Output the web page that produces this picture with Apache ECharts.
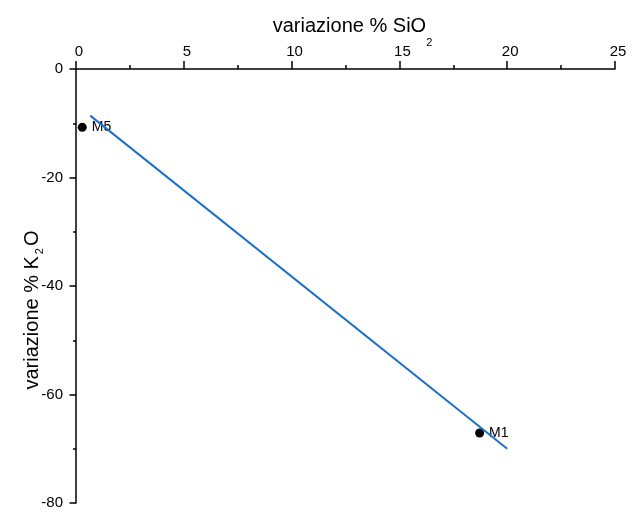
<!DOCTYPE html>
<html>
<head>
<meta charset="utf-8">
<script src="https://cdn.jsdelivr.net/npm/echarts@6/dist/echarts.min.js"></script>
<style>
  html, body { margin: 0; padding: 0; background: #fff; }
  #chart { width: 637px; height: 513px; }
</style>
</head>
<body>
<div id="chart"></div>
<script>
// Samples: SiO2 change vs K2O change (%)
const sampleNames = ['M5', 'M1'];
const sampleSiO2 = [0.29, 18.72];
const sampleK2O = [-10.76, -67.1];

// Trend line end points
const trendSiO2 = [0.66, 20];
const trendK2O = [-8.6, -70];

const FONT = '"Liberation Sans", Arial, sans-serif';
const INK = '#000';

const chart = echarts.init(document.getElementById('chart'), null, { renderer: 'canvas' });

const axisCommon = {
  type: 'value',
  splitLine: { show: false },
  minorSplitLine: { show: false },
  axisLine: { show: true, onZero: false, lineStyle: { color: INK, width: 1.5 } },
  axisTick: { show: true, inside: false, lineStyle: { color: INK, width: 1.5 } },
  minorTick: { show: true, splitNumber: 2, lineStyle: { color: INK, width: 1.5 } },
  axisLabel: { color: INK, fontSize: 15, fontFamily: FONT },
  nameMoveOverlap: false
};

chart.setOption({
  animation: false,
  backgroundColor: '#fff',
  grid: { left: 76, right: 22, top: 69, bottom: 10, containLabel: false },
  xAxis: Object.assign({}, axisCommon, {
    position: 'top',
    min: 0, max: 25, interval: 5,
    axisTick: Object.assign({}, axisCommon.axisTick, { length: 8 }),
    minorTick: Object.assign({}, axisCommon.minorTick, { length: 4 }),
    axisLabel: Object.assign({}, axisCommon.axisLabel, { margin: 10, padding: [0, 0, 0, 6] }),
    name: 'variazione % SiO{sub|2}',
    nameLocation: 'middle',
    nameGap: 53,
    nameTextStyle: {
      color: INK, fontFamily: FONT, fontSize: 20,
      padding: [0, 0, 0, 14],
      rich: {
        sub: { fontSize: 11, fontFamily: FONT, color: INK, lineHeight: 12, verticalAlign: 'top', padding: [21, 0, 0, 0] }
      },
      lineHeight: 20,
      verticalAlign: 'top'
    }
  }),
  yAxis: Object.assign({}, axisCommon, {
    position: 'left',
    min: -80, max: 0, interval: 20,
    axisTick: Object.assign({}, axisCommon.axisTick, { length: 6.5 }),
    minorTick: Object.assign({}, axisCommon.minorTick, { length: 3 }),
    axisLabel: Object.assign({}, axisCommon.axisLabel, { margin: 13 }),
    name: 'variazione % K{sub|2}O',
    nameLocation: 'middle',
    nameGap: 54,
    nameRotate: 90,
    nameTextStyle: {
      color: INK, fontFamily: FONT, fontSize: 20,
      padding: [0, 48, 0, 0],
      rich: {
        sub: { fontSize: 11, fontFamily: FONT, color: INK, lineHeight: 12, verticalAlign: 'top', padding: [12, 2, 0, 2] }
      },
      lineHeight: 20,
      verticalAlign: 'top'
    }
  }),
  series: [
    {
      type: 'scatter',
      z: 2,
      symbol: 'circle',
      symbolSize: 9,
      itemStyle: { color: INK, opacity: 1 },
      label: {
        show: true,
        position: 'right',
        distance: 5,
        color: INK,
        fontSize: 14,
        fontFamily: FONT,
        formatter: p => p.data[2]
      },
      data: sampleNames.map((n, i) => [sampleSiO2[i], sampleK2O[i], n])
    },
    {
      type: 'line',
      z: 3,
      symbol: 'none',
      lineStyle: { color: '#1f6fc4', width: 2 },
      data: trendSiO2.map((x, i) => [x, trendK2O[i]])
    }
  ]
});
</script>
</body>
</html>
